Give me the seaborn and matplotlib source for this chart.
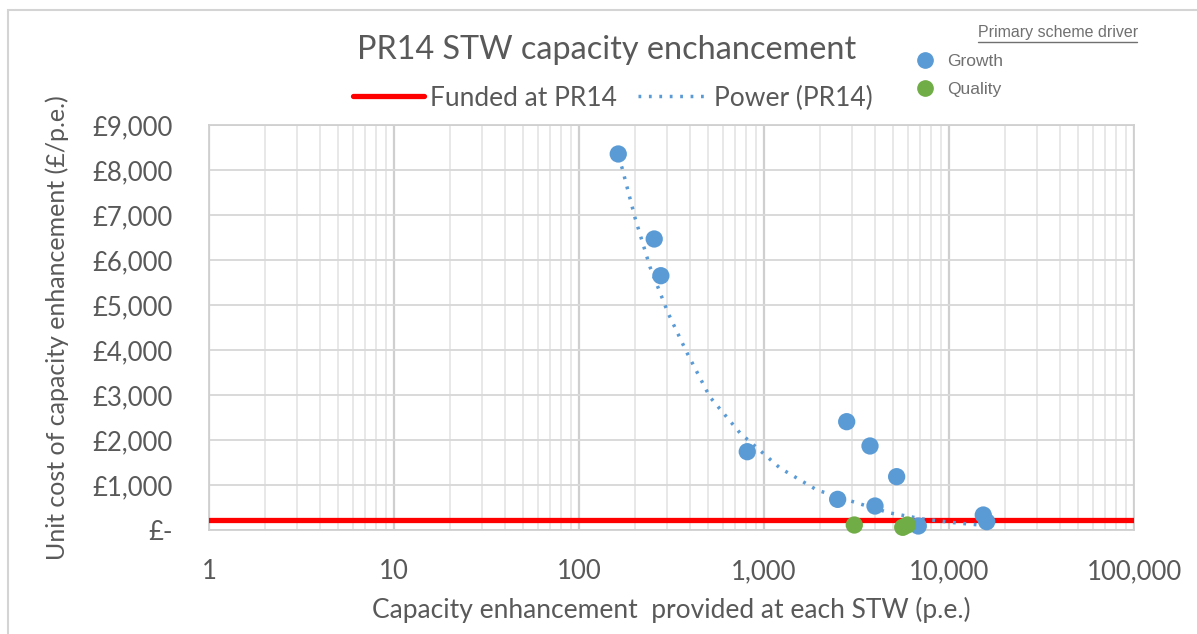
import numpy as np
import pandas as pd
import matplotlib
matplotlib.use('Agg')
from matplotlib import pyplot as plt
from matplotlib.ticker import FuncFormatter, LogLocator, FixedLocator
from matplotlib.lines import Line2D
from matplotlib.patches import Rectangle
import seaborn as sns

# data
growth_x = [163, 255, 277, 812, 2799, 3741, 5212, 2501, 3981, 6823, 15320, 15990]
growth_y = [8356, 6467, 5651, 1740, 2407, 1867, 1185, 681, 533, 89, 333, 185]
quality_x = [3077, 5623, 5957]
quality_y = [111, 60, 111]

# dotted power trendline
trend_x = [163, 171, 201, 242, 303, 384, 510, 742, 1219, 1932, 3184, 4800, 7230, 11040, 14720, 15990]
trend_y = [8300, 8044, 6933, 5844, 4822, 3933, 2956, 2156, 1378, 889, 600, 378, 244, 156, 111, 100]

FUNDED = 230

df = pd.DataFrame({
    'pe': growth_x + quality_x,
    'cost': growth_y + quality_y,
    'driver': ['Growth'] * len(growth_x) + ['Quality'] * len(quality_x),
})

BLUE = '#5B9BD5'
GREEN = '#70AD47'
RED = '#FF0000'
TXT = '#595959'

sns.set_style('white')
plt.rcParams['font.family'] = ['Lato', 'DejaVu Sans']

W, H = 1197, 634
fig = plt.figure(figsize=(W / 100, H / 100), dpi=100)
ax = fig.add_axes([209 / W, 1 - 530 / H, (1134 - 209) / W, (530 - 125) / H])
ax.set_xscale('log')

ax.axhline(FUNDED, color=RED, lw=3.8, zorder=3, label='Funded at PR14')
sns.lineplot(x=trend_x, y=trend_y, ax=ax, color=BLUE, lw=2.5, linestyle=(0, (0.8, 2.2)),
             sort=False, estimator=None, zorder=4, label='Power (PR14)')
sns.scatterplot(data=df, x='pe', y='cost', hue='driver', palette={'Growth': BLUE, 'Quality': GREEN},
                s=155, linewidth=0, ax=ax, zorder=5, clip_on=False, legend=False)

ax.set_xlim(1, 100000)
ax.set_ylim(0, 9000)
ax.set_yticks(np.arange(0, 9001, 1000))
ax.yaxis.set_major_formatter(FuncFormatter(lambda v, p: '£-' if v == 0 else f'£{v:,.0f}'))
ax.xaxis.set_major_locator(FixedLocator([1, 10, 100, 1000, 10000, 100000]))
ax.xaxis.set_minor_locator(LogLocator(base=10, subs=np.arange(2, 10)))
ax.xaxis.set_major_formatter(FuncFormatter(lambda v, p: f'{v:,.0f}'))

ax.grid(which='major', axis='x', color='#cfcfcf', lw=1.6, zorder=0)
ax.grid(which='minor', axis='x', color='#e6e6e6', lw=1.3, zorder=0)
ax.grid(which='major', axis='y', color='#d9d9d9', lw=1.4, zorder=0)
ax.set_axisbelow(True)
for s in ax.spines.values():
    s.set_color('#d0d0d0')
    s.set_linewidth(1.3)
ax.tick_params(which='both', length=0, labelsize=18.5, labelcolor=TXT)
ax.tick_params(axis='y', pad=26)
ax.tick_params(axis='x', pad=21)

ax.set_xlabel('Capacity enhancement  provided at each STW (p.e.)', fontsize=19, color=TXT, labelpad=9)
ax.set_ylabel('Unit cost of capacity enhancement (£/p.e.)', fontsize=18, color=TXT, labelpad=17)

fig.text(607 / W, 1 - 50 / H, 'PR14 STW capacity enchancement', fontsize=23.3, color=TXT,
         ha='center', va='center')

# series legend
ax.legend(loc='center', bbox_to_anchor=(613 / W, 1 - 98 / H), bbox_transform=fig.transFigure,
          ncol=2, frameon=False, fontsize=19, labelcolor=TXT, handlelength=2.7,
          handletextpad=0.2, columnspacing=0.8, borderpad=0)

# scheme driver legend
fig.text(978 / W, 1 - 33 / H, 'Primary scheme driver', fontsize=11.5, color='#707070',
         family='Liberation Sans', va='center', ha='left')
fig.add_artist(Line2D([978 / W, 1137 / W], [1 - 42 / H, 1 - 42 / H], color='#707070', lw=1))
handles = [Line2D([], [], marker='o', ls='', color=c, markersize=11, label=l)
           for l, c in [('Growth', BLUE), ('Quality', GREEN)]]
fig.legend(handles=handles, loc='upper left', bbox_to_anchor=(908 / W, 1 - 45 / H), frameon=False,
           prop={'family': 'Liberation Sans', 'size': 12.5}, labelcolor='#707070',
           handlelength=1.0, handletextpad=0.75, labelspacing=0.75, borderpad=0)

# outer frame of the chart
fig.add_artist(Rectangle((8 / W, -0.1), 2, 1.1 - 10 / H, transform=fig.transFigure,
                         fill=False, ec='#d4d4d4', lw=1.5))

fig.savefig('out.png', dpi=100)
